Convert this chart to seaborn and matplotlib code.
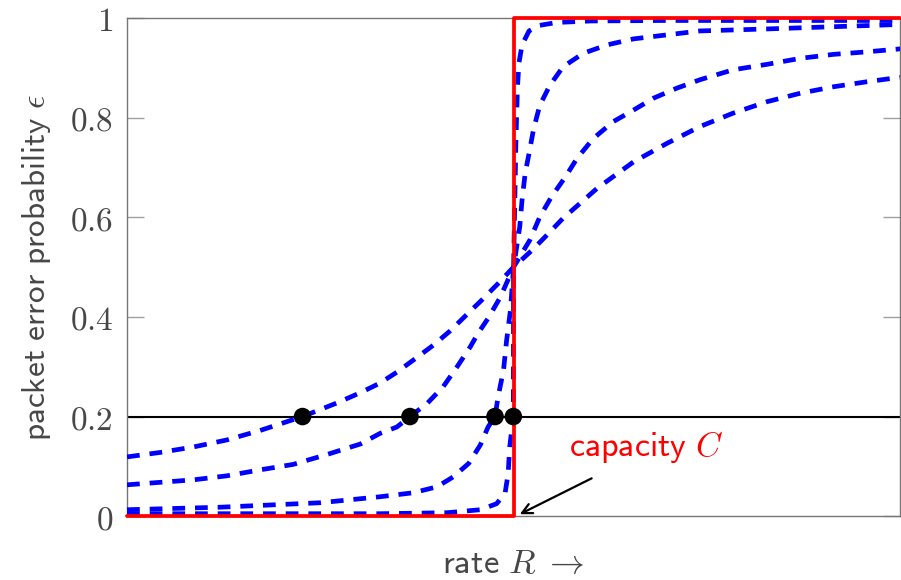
import matplotlib
matplotlib.use("Agg")
import matplotlib.pyplot as plt
import seaborn as sns

# curves (rate normalised so that capacity C = 0.5)
x_a = [0, 0.043, 0.086, 0.129, 0.172, 0.227, 0.271, 0.302, 0.327, 0.349, 0.370, 0.396,
       0.418, 0.439, 0.459, 0.480, 0.5, 0.524, 0.543, 0.564, 0.586, 0.608, 0.655,
       0.698, 0.741, 0.784, 0.828, 0.871, 0.914, 0.957, 1.0]
y_a = [0.119, 0.128, 0.139, 0.153, 0.172, 0.2, 0.227, 0.248, 0.267, 0.289, 0.313, 0.343,
       0.372, 0.404, 0.434, 0.467, 0.5, 0.534, 0.564, 0.598, 0.628, 0.658, 0.711,
       0.748, 0.782, 0.809, 0.832, 0.849, 0.862, 0.872, 0.881]

x_b = [0, 0.043, 0.086, 0.129, 0.172, 0.215, 0.259, 0.302, 0.327, 0.349, 0.366, 0.388,
       0.409, 0.427, 0.444, 0.454, 0.467, 0.483, 0.5, 0.521, 0.534, 0.549, 0.567,
       0.582, 0.603, 0.629, 0.655, 0.681, 0.711, 0.741, 0.784, 0.828, 0.871, 0.914,
       0.957, 1.0]
y_b = [0.063, 0.068, 0.073, 0.081, 0.093, 0.104, 0.124, 0.145, 0.166, 0.179, 0.2, 0.226,
       0.26, 0.3, 0.34, 0.367, 0.397, 0.44, 0.5, 0.554, 0.601, 0.641, 0.681,
       0.718, 0.758, 0.792, 0.815, 0.839, 0.859, 0.876, 0.896, 0.907, 0.919, 0.927,
       0.932, 0.938]

x_c = [0, 0.12, 0.25, 0.327, 0.370, 0.401, 0.422, 0.442, 0.457, 0.467, 0.476, 0.480,
       0.487, 0.491, 0.496, 0.5, 0.508, 0.511, 0.515, 0.520, 0.526, 0.534, 0.547,
       0.564, 0.590, 0.621, 0.655, 0.698, 0.741, 0.828, 1.0]
y_c = [0.013, 0.018, 0.027, 0.039, 0.047, 0.059, 0.079, 0.106, 0.143, 0.179, 0.2, 0.24,
       0.293, 0.353, 0.414, 0.5, 0.581, 0.635, 0.688, 0.728, 0.778, 0.825, 0.865,
       0.902, 0.929, 0.946, 0.958, 0.966, 0.974, 0.978, 0.987]

x_d = [0, 0.2, 0.327, 0.414, 0.457, 0.478, 0.489, 0.493, 0.495, 0.4997, 0.5,
       0.503, 0.505, 0.507, 0.511, 0.52, 0.533, 0.556, 0.6, 0.7, 1.0]
y_d = [0.005, 0.005, 0.005, 0.007, 0.013, 0.025, 0.046, 0.086, 0.139, 0.2, 0.5,
       0.75, 0.86, 0.91, 0.946, 0.974, 0.985, 0.991, 0.994, 0.995, 0.995]

# ideal step at capacity
x_step = [0, 0.5, 0.5, 1.0]
y_step = [0, 0, 1, 1]

target_eps = 0.2
x_dots = [0.227, 0.366, 0.476, 0.4997]
y_ticks = [0, 0.2, 0.4, 0.6, 0.8, 1]

sns.set_theme(style="white")
plt.rcParams["mathtext.fontset"] = "cm"
grey = "#474747"

fig = plt.figure(figsize=(9.01, 5.80), dpi=100)
ax = fig.add_axes([0.141, 0.110, 0.858, 0.859])

ax.axhline(target_eps, color="black", lw=1.5, zorder=2)

for xs, ys in [(x_a, y_a), (x_b, y_b), (x_c, y_c), (x_d, y_d)]:
    sns.lineplot(x=xs, y=ys, ax=ax, sort=False, estimator=None, color="blue",
                 lw=3.4, linestyle=(0, (2.7, 2.1)), zorder=3)

sns.lineplot(x=x_step, y=y_step, ax=ax, sort=False, estimator=None,
             color="red", lw=2.7, zorder=4, clip_on=False)

sns.scatterplot(x=x_dots, y=[target_eps] * len(x_dots), ax=ax, color="black",
                s=160, edgecolor="none", zorder=5)

ax.annotate("", xy=(0.508, 0.004), xytext=(0.601, 0.076),
            arrowprops=dict(arrowstyle="->", color="black", lw=1.6,
                            shrinkA=0, shrinkB=0, mutation_scale=18))
ax.text(0.672, 0.12, r"$\mathsf{capacity}\ C$", color="red", fontsize=24.5,
        ha="center", va="baseline")

ax.set_xlim(0, 1)
ax.set_ylim(0, 1)
ax.set_xticks([])
ax.set_yticks(y_ticks)
ax.set_yticklabels([f"${v:g}$" for v in y_ticks], fontsize=24, color=grey)
ax.tick_params(axis="y", direction="in", length=12, width=1, color="#a0a0a0",
               left=True, right=True, pad=10)

for s in ax.spines.values():
    s.set_color("#777777")
    s.set_linewidth(1)

ax.set_xlabel(r"$\mathsf{rate}\ R\;\rightarrow$", fontsize=25, color=grey)
ax.xaxis.label.set_va("baseline")
ax.xaxis.set_label_coords(0.5, -0.1145)
ax.set_ylabel(r"$\mathsf{packet\ error\ probability}\ \epsilon$", fontsize=24, color=grey)
ax.yaxis.set_label_coords(-0.0957, 0.5)

fig.savefig("out.png", dpi=100)
